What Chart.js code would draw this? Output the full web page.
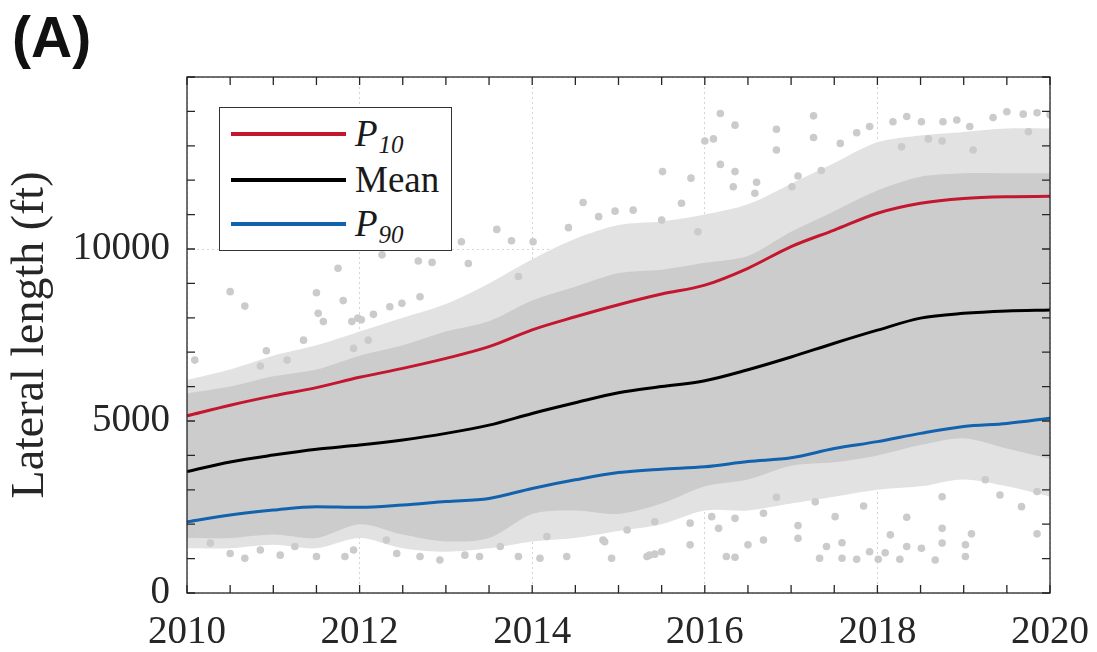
<!DOCTYPE html>
<html>
<head>
<meta charset="utf-8">
<script src="https://cdn.jsdelivr.net/npm/chart.js@4.4.1/dist/chart.umd.min.js"></script>
<style>
  html, body { margin: 0; padding: 0; background: #fff; }
  #wrap { position: relative; width: 1097px; height: 652px; }
  #panel { position: absolute; left: 12px; top: 4px; font: bold 57px "Liberation Sans", Arial, sans-serif; color: #111; }
  #legend { position: absolute; left: 219px; top: 107px; width: 231px; height: 142px; border: 1.3px solid #333; background: #fff;
            font-family: "Liberation Serif", serif; font-size: 37px; color: #1a1a1a; }
  .row { position: absolute; left: 0; width: 100%; height: 40px; }
  .swatch { position: absolute; left: 11px; top: 18px; width: 115px; height: 3.5px; }
  .lbl { position: absolute; left: 135px; top: 0; line-height: 40px; white-space: nowrap; }
  .lbl i sub { font-size: 25px; vertical-align: baseline; position: relative; top: 7px; margin-left: 1px; }
</style>
</head>
<body>
<div id="wrap">
  <canvas id="chart" width="1097" height="652"></canvas>
  <div id="panel">(A)</div>
  <div id="legend">
    <div class="row" style="top:6px"><div class="swatch" style="background:#c3162f"></div><div class="lbl"><i>P<sub>10</sub></i></div></div>
    <div class="row" style="top:52px"><div class="swatch" style="background:#000"></div><div class="lbl">Mean</div></div>
    <div class="row" style="top:96px"><div class="swatch" style="background:#1362ad"></div><div class="lbl"><i>P<sub>90</sub></i></div></div>
  </div>
</div>
<script>
// half-year sample points for the summary curves and the cloud envelopes
const years = [2010, 2010.5, 2011, 2011.5, 2012, 2012.5, 2013, 2013.5, 2014, 2014.5, 2015,
               2015.5, 2016, 2016.5, 2017, 2017.5, 2018, 2018.5, 2019, 2019.5, 2020];

const p10  = [5150, 5460, 5730, 5970, 6270, 6530, 6820, 7160, 7650, 8030, 8380,
              8690, 8950, 9440, 10070, 10550, 11040, 11330, 11470, 11520, 11530];
const mean = [3530, 3810, 4010, 4180, 4300, 4450, 4640, 4880, 5220, 5530, 5820,
              6000, 6170, 6490, 6860, 7260, 7640, 7990, 8130, 8200, 8230];
const p90  = [2070, 2270, 2410, 2510, 2490, 2560, 2660, 2750, 3040, 3290, 3500,
              3600, 3670, 3820, 3930, 4200, 4400, 4640, 4840, 4930, 5080];

// edges of the well cloud (dense core and patchy fringe)
const coreHigh  = [5800, 6000, 6300, 6500, 6900, 7200, 7600, 7900, 8500, 8900, 9300,
                   9400, 9600, 9800, 10500, 11100, 11700, 12100, 12200, 12200, 12200];
const coreLow   = [1600, 1600, 1700, 1600, 2000, 1700, 1500, 1600, 2300, 2400, 2300,
                   2600, 3100, 3300, 3700, 3800, 4000, 4300, 4500, 4200, 3900];
const fringeHigh = [6200, 6500, 6900, 7200, 7600, 8000, 8400, 9000, 9700, 10300, 10700,
                    10800, 11000, 11300, 11900, 12500, 13100, 13300, 13400, 13500, 13500];
const fringeLow  = [1300, 1300, 1400, 1300, 1600, 1300, 1200, 1300, 1500, 1600, 1800,
                    2000, 2400, 2400, 2600, 2800, 3000, 3100, 3300, 3100, 2800];

// isolated wells outside the cloud
const dotYear = [
  2010.09, 2010.50, 2010.67, 2010.92, 2010.85, 2011.16, 2011.35, 2011.50, 2011.58, 2011.75, 2011.81, 2011.91,
  2011.93, 2012.02, 2012.10, 2012.26, 2012.35, 2012.49, 2012.68, 2012.70, 2012.84, 2013.18, 2013.26, 2013.59,
  2013.76, 2013.84, 2014.01, 2014.42, 2014.59, 2014.77, 2014.96, 2011.52, 2011.98, 2012.16,
  2015.17, 2015.50, 2015.51, 2015.73, 2015.84, 2015.92, 2016.00, 2016.10, 2016.18, 2016.18, 2016.33, 2016.35,
  2016.35, 2016.58, 2016.60, 2016.83, 2016.83, 2017.01, 2017.08, 2017.26, 2017.26, 2017.35, 2017.57, 2017.76,
  2017.91, 2018.18, 2018.28, 2018.34, 2018.51, 2018.59, 2018.75, 2018.76, 2018.92, 2019.07, 2019.11, 2019.34,
  2019.50, 2019.69, 2019.75, 2019.85, 2020.00,
  2010.07, 2010.27, 2010.50, 2010.67, 2010.85, 2011.08, 2011.25, 2011.50, 2011.83, 2011.93, 2012.31, 2012.43,
  2012.70, 2012.93, 2013.22, 2013.39, 2013.63, 2013.84, 2014.09, 2014.17, 2014.40, 2014.82, 2014.84, 2014.92,
  2015.10, 2015.33, 2015.36, 2015.42, 2015.42, 2015.50, 2015.83, 2015.83, 2016.08, 2016.16, 2016.25, 2016.35,
  2016.35, 2016.50, 2016.68, 2016.68, 2016.83, 2017.08, 2017.08, 2017.28, 2017.33, 2017.41, 2017.51, 2017.59,
  2017.59, 2017.76, 2017.84, 2017.91, 2018.01, 2018.09, 2018.15, 2018.26, 2018.34, 2018.34, 2018.51, 2018.67,
  2018.75, 2018.75, 2018.75, 2019.02, 2019.02, 2019.09, 2019.25, 2019.42, 2019.67, 2019.85, 2019.85
];
const dotLength = [
  6770, 8760, 8340, 7040, 6600, 6770, 7350, 8730, 7890, 9440, 8500, 7890,
  7110, 7940, 7350, 9830, 8320, 8420, 9650, 8610, 9610, 10210, 9580, 10570,
  10240, 9200, 10210, 10620, 11350, 10940, 11100, 8130, 7990, 8100,
  11130, 10840, 12250, 11330, 12060, 10500, 13140, 13200, 13940, 12460, 11810, 13600,
  12250, 11620, 11940, 13480, 12880, 11810, 12120, 13870, 13240, 12280, 13070, 13380,
  13560, 13700, 12970, 13850, 13700, 13200, 13140, 13700, 13750, 13560, 12880, 13820,
  13990, 13920, 13410, 13960, 13900,
  1740, 1450, 1150, 1010, 1250, 1100, 1350, 1060, 1060, 1250, 1540, 1150,
  1060, 960, 1100, 1060, 1350, 1060, 1010, 1640, 1060, 1540, 1490, 1010,
  1830, 1060, 1100, 1130, 2070, 1200, 1400, 2030, 2220, 1880, 1060, 1040,
  2170, 1400, 1540, 2320, 2780, 1590, 1960, 2650, 1010, 1350, 2220, 1460,
  1010, 980, 2530, 1200, 980, 1170, 1690, 980, 1350, 2200, 1300, 960,
  1450, 1880, 2800, 1060, 1400, 1720, 3290, 2850, 2510, 1720, 2950
];

const xTicks = { step: 0.5, labelEvery: 2 };
const yTicks = { step: 1000, labelEvery: 5000 };

const serif = '"Liberation Serif", "Times New Roman", serif';
const textColor = '#262626';

function pts(xs, ys) {
  return xs.map((x, i) => ({ x: x, y: ys[i] }));
}

function band(values, order, color, fillPrev) {
  return {
    type: 'line',
    data: pts(years, values),
    borderWidth: 0,
    pointRadius: 0,
    tension: 0.3,
    backgroundColor: color,
    fill: fillPrev ? '-1' : false,
    order: order
  };
}

function curve(values, color) {
  return {
    type: 'line',
    data: pts(years, values),
    borderColor: color,
    borderWidth: 3,
    pointRadius: 0,
    cubicInterpolationMode: 'monotone',
    fill: false,
    order: 0
  };
}

// box around the plot with inward tick marks on all four sides
const frame = {
  id: 'frame',
  afterDraw(chart) {
    const { ctx, chartArea: a, scales } = chart;
    ctx.save();
    ctx.strokeStyle = textColor;
    ctx.lineWidth = 1.3;
    ctx.beginPath();
    scales.x.ticks.forEach(t => {
      const px = scales.x.getPixelForValue(t.value);
      ctx.moveTo(px, a.bottom); ctx.lineTo(px, a.bottom - 8);
      ctx.moveTo(px, a.top); ctx.lineTo(px, a.top + 8);
    });
    scales.y.ticks.forEach(t => {
      const py = scales.y.getPixelForValue(t.value);
      ctx.moveTo(a.left, py); ctx.lineTo(a.left + 8, py);
      ctx.moveTo(a.right, py); ctx.lineTo(a.right - 8, py);
    });
    ctx.stroke();
    ctx.strokeRect(a.left, a.top, a.right - a.left, a.bottom - a.top);
    ctx.restore();
  }
};

new Chart(document.getElementById('chart').getContext('2d'), {
  type: 'line',
  data: {
    datasets: [
      curve(p10, '#c3162f'),
      curve(mean, '#000000'),
      curve(p90, '#1362ad'),
      {
        type: 'scatter',
        data: pts(dotYear, dotLength),
        pointRadius: 3.8,
        pointBackgroundColor: '#cbcbcb',
        pointBorderWidth: 0,
        order: 1
      },
      band(coreLow, 2, '#cccccc', false),
      band(coreHigh, 2, '#cccccc', true),
      band(fringeLow, 3, '#e2e2e2', false),
      band(fringeHigh, 3, '#e2e2e2', true)
    ]
  },
  options: {
    responsive: false,
    animation: false,
    devicePixelRatio: 1,
    layout: { padding: { top: 77, right: 47, left: 0, bottom: 0 } },
    plugins: { legend: { display: false }, tooltip: { enabled: false } },
    scales: {
      x: {
        type: 'linear',
        min: 2010,
        max: 2020,
        afterFit: s => { s.height = 59; },
        ticks: {
          stepSize: xTicks.step,
          autoSkip: false,
          maxRotation: 0,
          padding: 8,
          color: textColor,
          font: { family: serif, size: 39, lineHeight: 1.64 },
          callback: v => (v % xTicks.labelEvery === 0 ? String(v) : '')
        },
        grid: {
          drawTicks: false,
          lineWidth: 1,
          color: c => (c.tick && c.tick.value % xTicks.labelEvery === 0 ? '#d4d4d4' : 'transparent')
        },
        border: { display: false, dash: [2, 3] }
      },
      y: {
        min: 0,
        max: 15000,
        afterFit: s => { s.width = 187; },
        ticks: {
          stepSize: yTicks.step,
          autoSkip: false,
          padding: 17,
          color: textColor,
          font: { family: serif, size: 39 },
          callback: v => (v % yTicks.labelEvery === 0 && v < 15000 ? String(v) : '')
        },
        grid: {
          drawTicks: false,
          lineWidth: 1,
          color: c => (c.tick && c.tick.value % yTicks.labelEvery === 0 ? '#d4d4d4' : 'transparent')
        },
        border: { display: false, dash: [2, 3] },
        title: {
          display: true,
          text: 'Lateral length (ft)',
          color: textColor,
          font: { family: serif, size: 46, lineHeight: 1 },
          padding: { top: 8, bottom: 0 }
        }
      }
    }
  },
  plugins: [frame]
});
</script>
</body>
</html>
